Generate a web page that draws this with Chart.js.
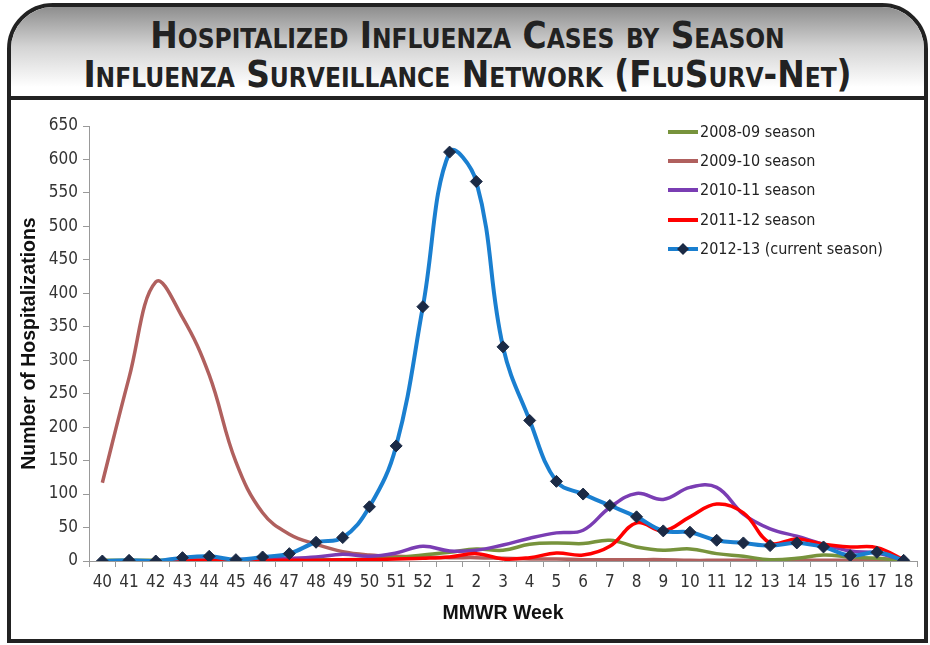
<!DOCTYPE html>
<html>
<head>
<meta charset="utf-8">
<title>Hospitalized Influenza Cases by Season</title>
<script src="https://cdn.jsdelivr.net/npm/chart.js@4.4.1/dist/chart.umd.min.js"></script>
<style>
  body { margin: 0; background: #fff; width: 930px; height: 645px; overflow: hidden; }
  #frame {
    position: absolute; left: 7px; top: 3px; width: 913px; height: 632px;
    border: 4px solid #222; border-radius: 46px 46px 0 0; overflow: hidden; background: #fff;
  }
  #head {
    height: 93px; border-bottom: 4px solid #222;
    background: linear-gradient(#8e8e8e 0%, #d4d4d4 45%, #ffffff 90%);
    font-family: 'Liberation Sans Narrow', 'DejaVu Sans Condensed', sans-serif;
    font-weight: bold; font-variant: small-caps; color: #222;
    text-align: center; font-size: 36.5px; line-height: 39px; padding-top: 9px; box-sizing: border-box;
  }
  #chartBox { position: absolute; left: 0; top: 97px; }
</style>
</head>
<body>
<div id="frame">
  <div id="head">
    <div>Hospitalized Influenza Cases by Season</div>
    <div>Influenza Surveillance Network (FluSurv-Net)</div>
  </div>
  <div id="chartBox"><canvas id="fluChart" width="913" height="535"></canvas></div>
</div>
<script>
// MMWR weeks, season runs week 40 to week 18
const weeks = ['40', '41', '42', '43', '44', '45', '46', '47', '48', '49', '50', '51', '52',
    '1', '2', '3', '4', '5', '6', '7', '8', '9', '10', '11', '12', '13', '14', '15', '16', '17', '18'];

const yTicks = [0, 50, 100, 150, 200, 250, 300, 350, 400, 450, 500, 550, 600, 650];

const seasonLabels = ['2008-09 season', '2009-10 season', '2010-11 season', '2011-12 season', '2012-13 (current season)'];

const season0809 = [1, 1, 1, 1, 1, 1, 1, 1, 2, 2, 3, 5, 9,
    13, 18, 16, 25, 27, 26, 31, 21, 16, 18, 11, 7, 2, 4, 9, 6, 4, 1];
const season0910 = [117, 274, 417, 364, 278, 148, 72, 40, 25, 14, 9, 7, 6,
    5, 5, 4, 3, 3, 2, 2, 2, 2, 1, 1, 1, 1, 1, 1, 1, 1, 1];
const season1011 = [0, 0, 0, 1, 1, 2, 3, 4, 6, 10, 7, 12, 22,
    15, 16, 24, 34, 42, 46, 80, 101, 92, 110, 110, 70, 48, 37, 25, 15, 12, 1];
const season1112 = [0, 0, 0, 1, 1, 1, 1, 1, 1, 2, 2, 3, 4,
    6, 11, 3, 5, 12, 9, 22, 57, 45, 66, 85, 72, 27, 33, 25, 21, 20, 2];
const season1213 = [0, 1, 0, 5, 7, 2, 6, 11, 28, 35, 81, 172, 380,
    611, 567, 320, 210, 119, 100, 83, 66, 45, 43, 31, 27, 23, 27, 21, 8, 13, 1];

const colors = ['#77933c', '#b0605e', '#7a3db3', '#ff0000', '#1a7fd0'];
const markerColor = '#1b2a45';
const narrow = "'Liberation Sans Narrow', 'DejaVu Sans Condensed', sans-serif";

// legend drawn inside the plot, top right
const insideLegend = {
    id: 'insideLegend',
    afterDraw(chart) {
        const ctx = chart.ctx;
        const x0 = 657, x1 = 687, tx = 689;
        const rows = [28, 57, 86, 116, 145];
        ctx.save();
        ctx.font = '16px ' + narrow;
        ctx.textBaseline = 'middle';
        ctx.fillStyle = '#222';
        seasonLabels.forEach((label, i) => {
            const y = rows[i];
            ctx.strokeStyle = colors[i];
            ctx.lineWidth = 4;
            ctx.beginPath();
            ctx.moveTo(x0, y);
            ctx.lineTo(x1, y);
            ctx.stroke();
            if (i === 4) {
                ctx.fillStyle = markerColor;
                ctx.beginPath();
                ctx.moveTo((x0 + x1) / 2, y - 6);
                ctx.lineTo((x0 + x1) / 2 + 6, y);
                ctx.lineTo((x0 + x1) / 2, y + 6);
                ctx.lineTo((x0 + x1) / 2 - 6, y);
                ctx.closePath();
                ctx.fill();
                ctx.fillStyle = '#222';
            }
            ctx.fillText(label, tx, y + 1);
        });
        ctx.restore();
    }
};

function lineSet(label, data, color, order, width) {
    return {
        label,
        data,
        borderColor: color,
        backgroundColor: color,
        borderWidth: width,
        pointRadius: 0,
        tension: 0.4,
        fill: false,
        order
    };
}

const datasets = [
    lineSet(seasonLabels[0], season0809, colors[0], 3, 3.5),
    lineSet(seasonLabels[1], season0910, colors[1], 4, 3.5),
    lineSet(seasonLabels[2], season1011, colors[2], 2, 3.5),
    lineSet(seasonLabels[3], season1112, colors[3], 1, 3.5),
    Object.assign(lineSet(seasonLabels[4], season1213, colors[4], 0, 4), {
        pointRadius: 6,
        pointStyle: 'rectRot',
        pointBackgroundColor: markerColor,
        pointBorderColor: markerColor,
        pointBorderWidth: 1
    })
];

window.onload = () => {
    const ctx = document.getElementById('fluChart').getContext('2d');
    new Chart(ctx, {
        type: 'line',
        data: { labels: weeks, datasets },
        plugins: [insideLegend],
        options: {
            responsive: false,
            animation: false,
            devicePixelRatio: 1,
            layout: { padding: { top: 22, right: 3, left: 0, bottom: 0 } },
            plugins: {
                legend: { display: false },
                tooltip: { enabled: false },
                title: { display: false }
            },
            scales: {
                x: {
                    offset: true,
                    grid: { display: true, drawOnChartArea: false, offset: true, tickLength: 6, color: '#999' },
                    border: { color: '#999', width: 1 },
                    ticks: { color: '#333', font: { family: narrow, size: 17 }, padding: 5, maxRotation: 0, autoSkip: false },
                    title: {
                        display: true, text: 'MMWR Week', color: '#111',
                        font: { family: "'Liberation Sans', Arial, sans-serif", size: 19.5, weight: 'bold' },
                        padding: { top: 0, bottom: 14 }
                    },
                    afterFit(scale) { scale.height = 78; }
                },
                y: {
                    min: 0,
                    max: 650,
                    afterBuildTicks(scale) { scale.ticks = yTicks.map(v => ({ value: v })); },
                    grid: { display: true, drawOnChartArea: false, tickLength: 6, color: '#999' },
                    border: { color: '#999', width: 1 },
                    ticks: { color: '#333', font: { family: narrow, size: 17 }, padding: 5 },
                    title: {
                        display: true, text: 'Number of Hospitalizations', color: '#111',
                        font: { family: "'Liberation Sans', Arial, sans-serif", size: 19.5, weight: 'bold' },
                        padding: { top: 7, bottom: 0 }
                    },
                    afterFit(scale) { scale.width = 78; }
                }
            }
        }
    });
};
</script>
</body>
</html>
